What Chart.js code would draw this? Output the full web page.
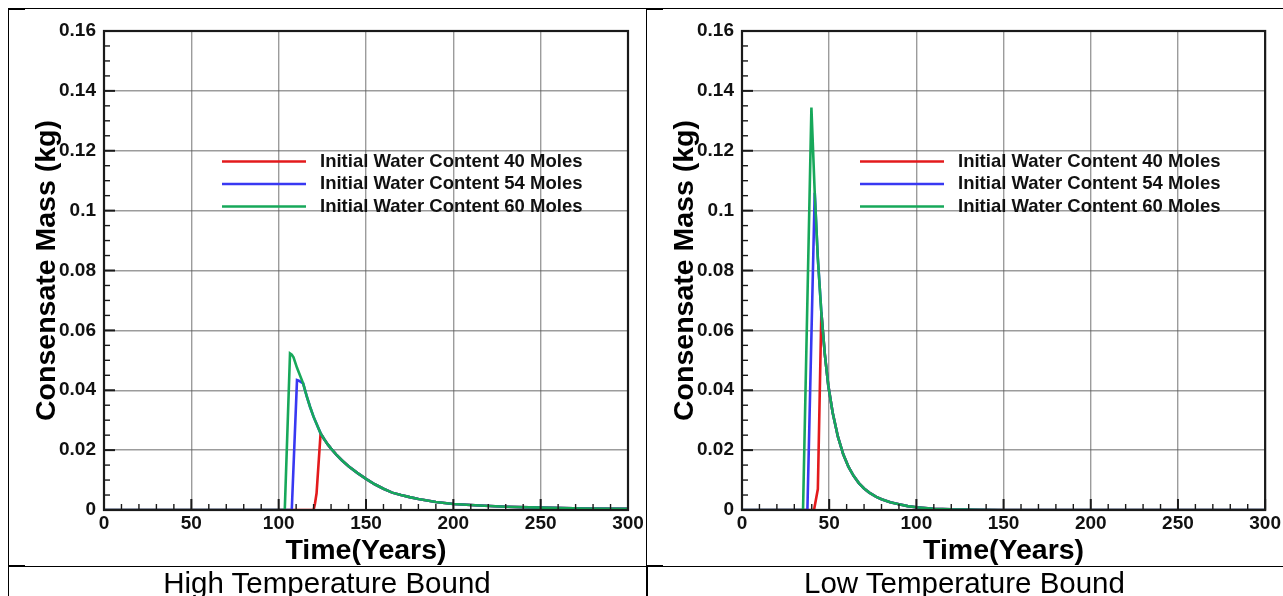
<!DOCTYPE html>
<html>
<head>
<meta charset="utf-8">
<title>Consensate Mass vs Time</title>
<script src="https://cdn.jsdelivr.net/npm/chart.js@4.4.1/dist/chart.umd.min.js"></script>
<style>
  html, body { margin: 0; padding: 0; background: #fff; }
  body {
    width: 1283px; height: 596px; position: relative; overflow: hidden;
    font-family: "Liberation Sans", Arial, Helvetica, sans-serif;
  }
  canvas { position: absolute; }
  .rule { position: absolute; background: #000; z-index: 2; }
  .caption {
    position: absolute; top: 568px; font-size: 29.5px; line-height: 29px;
    text-align: center; color: #000; white-space: nowrap; z-index: 2;
  }
</style>
</head>
<body>
<canvas id="hiChart" width="638" height="558" style="left:8px;top:8px"></canvas>
<canvas id="loChart" width="637" height="558" style="left:646px;top:8px"></canvas>

<!-- table rules -->
<div class="rule" style="left:8px;top:8px;width:1275px;height:1px"></div>
<div class="rule" style="left:8px;top:566px;width:1275px;height:1px"></div>
<div class="rule" style="left:8px;top:8px;width:1px;height:588px"></div>
<div class="rule" style="left:646px;top:8px;width:1px;height:558px"></div>
<div class="rule" style="left:646px;top:566px;width:2px;height:30px"></div>
<div class="rule" style="left:8px;top:8px;width:17px;height:2px"></div>
<div class="rule" style="left:646px;top:8px;width:17px;height:2px"></div>
<div class="rule" style="left:8px;top:565px;width:17px;height:2px"></div>
<div class="rule" style="left:646px;top:565px;width:17px;height:2px"></div>

<div class="caption" style="left:8px;width:638px">High Temperature Bound</div>
<div class="caption" style="left:646px;width:637px">Low Temperature Bound</div>

<script>
// Series names and line colours
const seriesLabels = [
  'Initial Water Content 40 Moles',
  'Initial Water Content 54 Moles',
  'Initial Water Content 60 Moles'
];
const seriesColors = ['#e31a1c', '#3838f2', '#17a85a'];

// Axis tick labels
const massTickLabels = ['0', '0.02', '0.04', '0.06', '0.08', '0.1', '0.12', '0.14', '0.16'];
const timeTickLabels = ['0', '50', '100', '150', '200', '250', '300'];

// High temperature bound: time (years) and condensate mass (kg); null = no sample
const hiTime = [0, 100, 103.5, 106.5, 107.5, 108.5, 110.5, 111.5, 114, 116, 118, 120, 120.8, 121.7,
  124, 126, 128, 130, 133, 136, 140, 145, 150, 155, 160, 165, 170, 175, 180, 190, 200, 215, 230, 250, 275, 300];
const hiMass40 = [0, 0, 0, 0, 0, 0, 0, 0, 0, 0, 0, 0, 0.0022, 0.0056,
  0.0256, 0.0237, 0.0220, 0.0205, 0.0185, 0.0167, 0.0146, 0.0124, 0.0104, 0.0086, 0.0071, 0.0058,
  0.0050, 0.0043, 0.0037, 0.0027, 0.0020, 0.0015, 0.0011, 0.0008, 0.0005, 0.0004];
const hiMass54 = [0, 0, 0, 0, 0, null, 0.0434, 0.0432, 0.0423, 0.0381, 0.0344, 0.0311, null, null,
  0.0256, 0.0237, 0.0220, 0.0205, 0.0185, 0.0167, 0.0146, 0.0124, 0.0104, 0.0086, 0.0071, 0.0058,
  0.0050, 0.0043, 0.0037, 0.0027, 0.0020, 0.0015, 0.0011, 0.0008, 0.0005, 0.0004];
const hiMass60 = [0, 0, 0, 0.0523, 0.0519, 0.0510, 0.0475, 0.0460, 0.0423, 0.0381, 0.0344, 0.0311, null, null,
  0.0256, 0.0237, 0.0220, 0.0205, 0.0185, 0.0167, 0.0146, 0.0124, 0.0104, 0.0086, 0.0071, 0.0058,
  0.0050, 0.0043, 0.0037, 0.0027, 0.0020, 0.0015, 0.0011, 0.0008, 0.0005, 0.0004];

// Low temperature bound: time (years) and condensate mass (kg); null = no sample
const loTime = [0, 35, 37.5, 39.8, 41.3, 41.7, 43.5, 45.5, 47.5, 49.5, 52, 55, 58, 61, 64, 67, 70, 73,
  77, 80, 85, 90, 95, 100, 110, 120, 135, 150, 200, 300];
const loMass40 = [0, 0, 0, 0, 0, null, 0.007, 0.066, 0.052, 0.0415, 0.0325, 0.0245, 0.0187, 0.0145,
  0.0114, 0.0090, 0.0072, 0.0058, 0.0044, 0.0036, 0.0026, 0.0019, 0.0013, 0.0009, 0.0004, 0.0002,
  0.0001, 0, 0, 0];
const loMass54 = [0, 0, 0, null, null, 0.106, 0.084, 0.066, 0.052, 0.0415, 0.0325, 0.0245, 0.0187, 0.0145,
  0.0114, 0.0090, 0.0072, 0.0058, 0.0044, 0.0036, 0.0026, 0.0019, 0.0013, 0.0009, 0.0004, 0.0002,
  0.0001, 0, 0, 0];
const loMass60 = [0, 0, null, 0.1344, null, 0.106, 0.084, 0.066, 0.052, 0.0415, 0.0325, 0.0245, 0.0187, 0.0145,
  0.0114, 0.0090, 0.0072, 0.0058, 0.0044, 0.0036, 0.0026, 0.0019, 0.0013, 0.0009, 0.0004, 0.0002,
  0.0001, 0, 0, 0];

Chart.defaults.font.family = '"Liberation Sans", Arial, Helvetica, sans-serif';
Chart.defaults.color = '#111';

// Plot frame plus inward major/minor tick marks on the left and bottom edges
const frameTicks = {
  id: 'frameTicks',
  afterDatasetsDraw(chart) {
    const { ctx, chartArea: a, scales: { x, y } } = chart;
    ctx.save();
    ctx.strokeStyle = '#1a1a1a';
    const seg = (x0, y0, x1, y1, w) => {
      ctx.lineWidth = w;
      ctx.beginPath(); ctx.moveTo(x0, y0); ctx.lineTo(x1, y1); ctx.stroke();
    };
    for (let i = 0; i <= 30; i++) {
      const px = x.getPixelForValue(x.min + i * 10);
      const major = i % 5 === 0;
      seg(px, a.bottom, px, a.bottom - (major ? 11 : 6), major ? 2 : 1.4);
    }
    for (let i = 0; i <= 32; i++) {
      const py = y.getPixelForValue(y.min + i * 0.005);
      const major = i % 4 === 0;
      seg(a.left, py, a.left + (major ? 11 : 6), py, major ? 2 : 1.4);
    }
    ctx.lineWidth = 2.2;
    ctx.strokeRect(a.left, a.top, a.right - a.left, a.bottom - a.top);
    ctx.restore();
  }
};

// Legend drawn inside the plot area, line sample followed by label
const innerLegend = {
  id: 'innerLegend',
  afterDraw(chart) {
    const { ctx, chartArea: a } = chart;
    ctx.save();
    ctx.font = 'bold 18.5px "Liberation Sans", Arial, Helvetica, sans-serif';
    ctx.textBaseline = 'middle';
    ctx.textAlign = 'left';
    chart.data.datasets.forEach((ds, i) => {
      const yy = a.top + 130.5 + i * 22.5;
      ctx.strokeStyle = ds.borderColor;
      ctx.lineWidth = 2.5;
      ctx.beginPath();
      ctx.moveTo(a.left + 118, yy);
      ctx.lineTo(a.left + 202, yy);
      ctx.stroke();
      ctx.fillStyle = '#111';
      ctx.fillText(ds.label, a.left + 216, yy);
    });
    ctx.restore();
  }
};

function makeChart(id, time, masses, rightPad) {
  const datasets = masses.map((vals, i) => ({
    label: seriesLabels[i],
    data: time.map((t, k) => ({ x: t, y: vals[k] })),
    borderColor: seriesColors[i],
    backgroundColor: seriesColors[i],
    borderWidth: 2.6,
    pointRadius: 0,
    tension: 0,
    spanGaps: true,
    order: masses.length - i
  }));
  const gridColor = 'rgba(90,90,90,0.6)';
  return new Chart(document.getElementById(id), {
    type: 'line',
    data: { datasets },
    plugins: [frameTicks, innerLegend],
    options: {
      responsive: false,
      animation: false,
      devicePixelRatio: 1,
      layout: { padding: { left: 0, right: rightPad, top: 23, bottom: 0 } },
      plugins: { legend: { display: false }, tooltip: { enabled: false } },
      scales: {
        x: {
          type: 'linear', min: 0, max: 300,
          grid: { color: gridColor, lineWidth: 1.4, drawTicks: false },
          border: { display: false },
          ticks: {
            stepSize: 50, padding: 2, maxRotation: 0, autoSkip: false,
            font: { size: 19, weight: 'bold' }, color: '#111',
            callback: (v, idx) => timeTickLabels[idx]
          },
          title: {
            display: true, text: 'Time(Years)', color: '#000',
            font: { size: 28.5, weight: 'bold', lineHeight: 1 },
            padding: { top: 0, bottom: 0.5 }
          },
          afterFit: s => { s.height = 56; }
        },
        y: {
          type: 'linear', min: 0, max: 0.16,
          grid: { color: gridColor, lineWidth: 1.4, drawTicks: false },
          border: { display: false },
          ticks: {
            stepSize: 0.02, padding: 8, autoSkip: false,
            font: { size: 19, weight: 'bold' }, color: '#111',
            callback: (v, idx) => massTickLabels[idx]
          },
          title: {
            display: true, text: 'Consensate Mass (kg)', color: '#000',
            font: { size: 28.5, weight: 'bold', lineHeight: 1 },
            padding: { top: 24.5, bottom: 0 }
          },
          afterFit: s => { s.width = 96; }
        }
      }
    }
  });
}

makeChart('hiChart', hiTime, [hiMass40, hiMass54, hiMass60], 18);
makeChart('loChart', loTime, [loMass40, loMass54, loMass60], 16);
</script>
</body>
</html>
